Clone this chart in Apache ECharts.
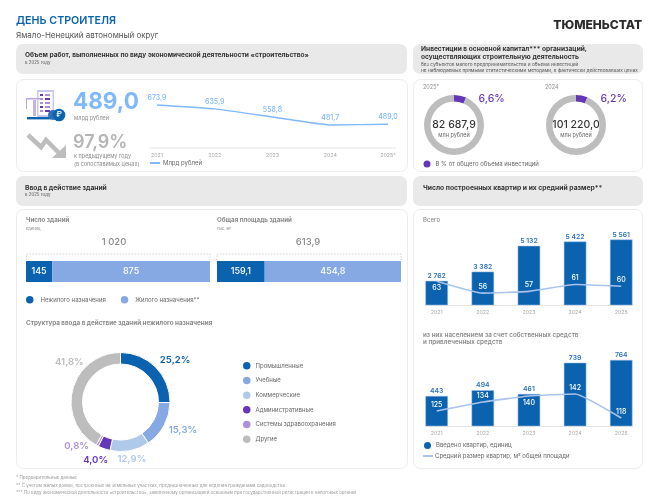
<!DOCTYPE html>
<html><head><meta charset="utf-8">
<style>html,body{margin:0;padding:0;background:#fff}#c{width:660px;height:503px}</style>
<script src="https://cdn.jsdelivr.net/npm/echarts@6/dist/echarts.min.js"></script></head>
<body><div id="c"></div>
<script>
// ---- data ----
const workYears = ['2021','2022','2023','2024','2025*'];
const workValues = [673.9,635.9,558.8,481.7,489.0];
const invest2025 = [6.6,93.4];
const invest2024 = [6.2,93.8];
const buildingTypes = ['Нежилого назначения','Жилого назначения**'];
const buildingsCount = [145,875];
const buildingsArea = [159.1,454.8];
const structNames = ['Промышленные','Учебные','Коммерческие','Административные','Системы здравоохранения','Другие'];
const structValues = [25.2,15.3,12.9,4.0,0.8,41.8];
const flatYears = ['2021','2022','2023','2024','2025'];
const flatsAll = [2762,3382,5132,5422,5561];
const sizeAll = [63,56,57,61,60];
const flatsOwn = [443,494,461,739,764];
const sizeOwn = [125,134,140,142,118];
// ---- palette ----
const BLUE='#0b63b0',MID='#86a9e3',PALE='#aec9ea',PUR='#6536b6',LIL='#ab90dc',GR='#bdbdbd',SKY='#7fb8fb',DK='#333333',TXT='#8a8a8a';
const FF='Inter, "Noto Sans", sans-serif';
const comma=v=>v.toFixed(1).replace('.',',');
const spaced=v=>String(v).replace(/\B(?=(\d{3})+$)/g,' ');
const txt=(x,y,text,size,fill,weight,align)=>({type:'text',x,y,silent:true,style:{text,font:(weight||400)+' '+size+'px '+FF,fill:fill||DK,textAlign:align||'left',textVerticalAlign:'middle'}});
const box=(x,y,w,h,fill,stroke)=>({type:'rect',shape:{x,y,width:w,height:h,r:7},silent:true,z:-1,style:{fill,stroke:stroke||null,lineWidth:1}});
const rect=(x,y,w,h,fill)=>({type:'rect',shape:{x,y,width:w,height:h},silent:true,style:{fill}});
const hline=(x1,x2,y,c,w)=>({type:'line',shape:{x1,y1:y,x2,y2:y},silent:true,z:0,style:{stroke:c,lineWidth:w||1}});
const bracket=(x1,x2,y1,y2)=>({type:'polyline',shape:{points:[[x1,y2],[x1,y1],[x2,y1],[x2,y2]]},silent:true,style:{stroke:'#bdbdbd',lineWidth:.7,lineDash:[1.5,1.5],fill:null}});

const graphic=[
 box(16,44,391,30,'#e9e9e9'),box(413,44,230,30,'#e9e9e9'),
 box(16.5,79.5,391,92,'#fff','#ececec'),box(413.5,79.5,229,92,'#fff','#ececec'),
 box(16,176,391,30,'#e9e9e9'),box(413,176,230,30,'#e9e9e9'),
 box(16.5,209.5,391,259,'#fff','#ececec'),box(413.5,209.5,229,259,'#fff','#ececec'),
 txt(16,21,'ДЕНЬ СТРОИТЕЛЯ',10.7,BLUE,600),
 txt(16,35.5,'Ямало-Ненецкий автономный округ',8,'#555',400),
 txt(642,25,'ТЮМЕНЬСТАТ',12,'#2b2b2b',800,'right'),
 txt(25,55.5,'Объем работ, выполненных по виду экономической деятельности «строительство»',6.6,DK,700),
 txt(25,62.5,'в 2025 году',4.4,'#555'),
 txt(421,49.5,'Инвестиции в основной капитал*** организаций,',6.6,DK,700),
 txt(421,57.5,'осуществляющих строительную деятельность',6.6,DK,700),
 txt(421,64.5,'без субъектов малого предпринимательства и объема инвестиций',4.75,'#555'),
 txt(421,71,'не наблюдаемых прямыми статистическими методами, в фактически действовавших ценах',4.75,'#555'),
 // icon
 rect(37,90,17,27,'#c9c9ef'),rect(38.5,92,14,23,'#fff'),
 rect(40,94,3,2,PUR),rect(45,94,5,2,LIL),rect(40,98,3,2,LIL),rect(45,98,5,2,PUR),rect(40,102,3,2,LIL),rect(45,102,5,2,LIL),rect(40,106,3,2,PUR),rect(45,106,5,2,LIL),rect(40,110,3,2,LIL),rect(45,110,5,2,PUR),
 rect(33,100,3,16,'#c2b3e8'),rect(26,98,14,1.5,'#b9a6e4'),rect(26,99,1,10,'#b9a6e4'),rect(27,117,24,2.4,BLUE),
 {type:'circle',shape:{cx:53,cy:115,r:5},silent:true,style:{fill:'#2f6fb8'}},
 {type:'circle',shape:{cx:59,cy:115,r:6.3},silent:true,style:{fill:BLUE}},
 txt(59,115,'₽',8,'#fff',500,'center'),
 // down arrow
 {type:'polyline',shape:{points:[[28,135],[41,147],[46,140],[60,154]]},silent:true,style:{stroke:GR,lineWidth:4.5,fill:null}},
 {type:'polygon',shape:{points:[[52,158],[66,158],[66,145]]},silent:true,style:{fill:GR}},
 txt(73,102,comma(workValues[4]),22.5,SKY,700),
 txt(74,118.5,'млрд рублей',5.5,TXT),
 txt(73,143,'97,9%',18,'#b5b5b5',600),
 txt(74,156.5,'к предыдущему году',5.5,TXT),
 txt(74,164,'(в сопоставимых ценах)',5.5,TXT),
 hline(149,396,148,'#e6e6e6',1.2),
 // investment
 txt(423,87,'2025*',5.5,TXT),txt(545,87,'2024',5.5,TXT),
 txt(478.5,98.5,'6,6%',10.5,PUR,500),txt(600.5,98.5,'6,2%',10.5,PUR,500),
 txt(454,125,'82 687,9',10.5,DK,500,'center'),txt(454,135,'млн рублей',5.5,'#666',400,'center'),
 txt(576,125,'101 220,0',10.5,DK,500,'center'),txt(576,135,'млн рублей',5.5,'#666',400,'center'),
 // building panel
 txt(25,187.5,'Ввод в действие зданий',6.7,DK,700),
 txt(25,195,'в 2025 году',4.4,'#555'),
 txt(26,220.5,'Число зданий',6.2,TXT,700),txt(26,229,'единиц',4,TXT),
 txt(217,220.5,'Общая площадь зданий',6.2,TXT,700),txt(217,229,'тыс. м²',4,TXT),
 txt(114,242,spaced(buildingsCount[0]+buildingsCount[1]),9.5,TXT,500,'center'),
 txt(308,242,comma(buildingsArea[0]+buildingsArea[1]),9.5,TXT,500,'center'),
 bracket(26.5,210,254,260),bracket(217,401,254,260),
 txt(26,323.5,'Структура ввода в действие зданий нежилого назначения',6.27,TXT,700),
 // flats panel
 txt(423,187.5,'Число построенных квартир и их средний размер**',6.75,DK,700),
 txt(423,220.5,'Всего',6,TXT,500),
 txt(423,335,'из них населением за счет собственных средств',6.3,TXT,600),
 txt(423,342.5,'и привлеченных средств',6.3,TXT,600),
 hline(425,633,305.5,'#e6e6e6',1.2),hline(425,633,426.5,'#e6e6e6',1.2),
 // notes
 txt(16,478,'* Предварительные данные',4.45,'#999'),
 txt(16,485.5,'** С учетом жилых домов, построенных на земельных участках, предназначенных для ведения гражданами садоводства',4.45,'#999'),
 txt(16,493,'*** По виду экономической деятельности «строительство», заявленному организацией основным при государственной регистрации в налоговых органах',4.45,'#999')
];

const axisLbl={color:'#a8a8a8',fontSize:5.3,fontFamily:FF,margin:5};
const hiddenY=(g,min,max)=>({type:'value',gridIndex:g,min,max,show:false});
const catX=(g,data,gap)=>({type:'category',gridIndex:g,data,boundaryGap:gap,axisLine:{show:false},axisTick:{show:false},axisLabel:axisLbl});
const legendText={fontSize:6,color:'#666',fontFamily:FF};
const dot={borderWidth:0};

function stack(g,vals,fmt){
 return buildingTypes.map((name,i)=>({type:'bar',name,stack:'s'+g,xAxisIndex:g,yAxisIndex:g,barWidth:21,
  data:[vals[i]],itemStyle:{color:i?MID:BLUE},
  label:{show:true,position:'inside',color:'#fff',textBorderWidth:0,fontSize:9,fontWeight:500,fontFamily:FF,formatter:p=>fmt(p.value)}}));
}
function ring(name,vals,cx){
 return {type:'pie',name,center:[cx,125],radius:[23.5,30],startAngle:90,silent:true,label:{show:false},labelLine:{show:false},
  data:[{name:'В % от общего объема инвестиций',value:vals[0],itemStyle:{color:PUR}},{name:'Остальное '+name,value:vals[1],itemStyle:{color:GR}}]};
}
function columns(g,barAxis,lineAxis,bars,line,below){
 return [
  {type:'bar',name:'Введено квартир, единиц',xAxisIndex:g,yAxisIndex:barAxis,barWidth:22.5,data:bars,
   itemStyle:{color:BLUE,borderColor:'#9dbce8',borderWidth:.5},
   label:{show:true,position:'top',distance:1.5,color:'#2f74bd',fontSize:6.8,fontWeight:600,fontFamily:FF,formatter:p=>spaced(p.value)}},
  {type:'line',name:'Средний размер квартир, м² общей площади',xAxisIndex:g,yAxisIndex:lineAxis,
   data:line.map((value,i)=>({value,label:{position:i===below?'bottom':'top'}})),
   symbol:'circle',symbolSize:0,smooth:.12,itemStyle:{color:'#a9c3ec'},
   lineStyle:{color:'#a9c3ec',width:1.6},z:5,
   label:{show:true,distance:3,color:'#fff',textBorderWidth:0,textBorderColor:'transparent',fontSize:7,fontWeight:500,fontFamily:FF}}
 ];
}
const structColors=[BLUE,MID,PALE,PUR,LIL,GR];
const pieLabelShift=[[-5,-5],[-5,3],[-20,6],[12,0],[7,-2],[16,-27]];

const option={
 animation:false,textStyle:{fontFamily:FF},graphic:{elements:graphic},
 grid:[
  {left:157,right:272,top:90,height:58},
  {left:26,width:184,top:261,height:21},
  {left:217,width:184,top:261,height:21},
  {left:413.6,width:230.7,top:225,height:80},
  {left:413.6,width:230.7,top:350,height:76}
 ],
 xAxis:[
  catX(0,workYears,false),
  {type:'value',gridIndex:1,min:0,max:1020,show:false},
  {type:'value',gridIndex:2,min:0,max:613.9,show:false},
  catX(3,flatYears,true),
  catX(4,flatYears,true)
 ],
 yAxis:[
  hiddenY(0,260,818),
  {type:'category',gridIndex:1,data:[''],show:false},
  {type:'category',gridIndex:2,data:[''],show:false},
  hiddenY(3,1125,6541),
  hiddenY(3,49,96),
  hiddenY(4,176,852),
  hiddenY(4,110,186)
 ],
 legend:[
  {left:150,top:160,padding:0,itemWidth:10,itemHeight:2,itemGap:6,icon:'rect',textStyle:{...legendText,padding:[0,0,0,-2]},data:['Млрд рублей'],selectedMode:false},
  {left:423.5,top:160.5,padding:0,itemWidth:7,itemHeight:7,icon:'circle',itemStyle:dot,textStyle:legendText,data:['В % от общего объема инвестиций'],selectedMode:false},
  {left:26,top:296,padding:0,itemWidth:7.5,itemHeight:7.5,itemGap:15,icon:'circle',itemStyle:dot,textStyle:{...legendText,padding:[0,0,0,2]},data:buildingTypes,selectedMode:false},
  {left:243,top:362,padding:0,orient:'vertical',itemWidth:7.5,itemHeight:7.5,itemGap:7.2,icon:'circle',itemStyle:dot,textStyle:{...legendText,padding:[0,0,0,0]},data:structNames,selectedMode:false},
  {left:424,top:442,padding:0,itemWidth:7,itemHeight:7,icon:'circle',itemStyle:dot,textStyle:legendText,data:['Введено квартир, единиц'],selectedMode:false},
  {left:423,top:453,padding:0,itemWidth:10,itemHeight:2,icon:'rect',textStyle:{...legendText,padding:[0,0,0,-3]},data:['Средний размер квартир, м² общей площади'],selectedMode:false}
 ],
 series:[
  {type:'line',name:'Млрд рублей',xAxisIndex:0,yAxisIndex:0,data:workValues,symbol:'circle',symbolSize:0,smooth:.12,
   lineStyle:{color:SKY,width:1.4},itemStyle:{color:SKY},
   label:{show:true,position:'top',distance:4,color:SKY,textBorderWidth:0,fontSize:7,fontWeight:500,fontFamily:FF,formatter:p=>comma(p.value)}},
  ring('2025',invest2025,454),ring('2024',invest2024,576),
  ...stack(1,buildingsCount,String),...stack(2,buildingsArea,comma),
  {type:'pie',center:[120.5,402],radius:[38,49.5],startAngle:90,silent:true,
   itemStyle:{borderColor:'#fff',borderWidth:1},
   data:structNames.map((name,i)=>({name,value:structValues[i],itemStyle:{color:structColors[i]},
     label:{color:structColors[i]}})),
   label:{show:true,position:'outside',fontSize:9.6,fontWeight:600,fontFamily:FF,formatter:p=>comma(p.value)+'%'},
   labelLine:{show:false,length:3,length2:2},
   labelLayout:p=>({dx:pieLabelShift[p.dataIndex][0],dy:pieLabelShift[p.dataIndex][1]})},
  ...columns(3,3,4,flatsAll,sizeAll,0),
  ...columns(4,5,6,flatsOwn,sizeOwn,2)
 ]
};
echarts.init(document.getElementById('c'),null,{renderer:'canvas'}).setOption(option);
</script></body></html>
